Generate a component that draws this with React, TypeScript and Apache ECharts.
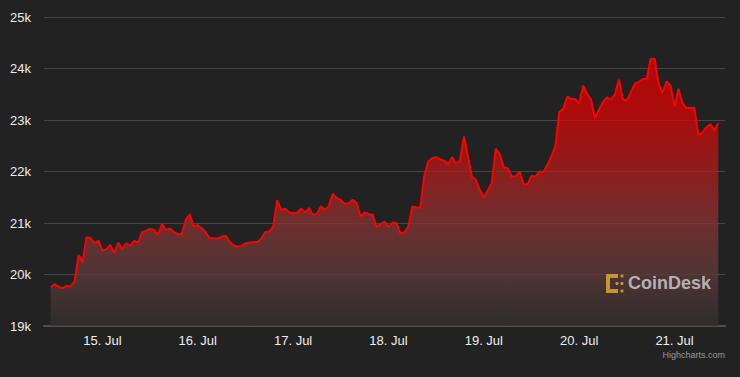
import React, { useEffect, useRef } from "react";
import * as echarts from "echarts";

// Hourly BTC price (USD), 14 Jul 2022 11:00 UTC -> 21 Jul 2022 11:00 UTC
const START = Date.UTC(2022, 6, 14, 11, 0);
const HOUR = 3600000;
const X_MIN = Date.UTC(2022, 6, 14, 9, 18);
const X_MAX = Date.UTC(2022, 6, 21, 12, 42);

const prices: number[] = [
  19752, 19810, 19764, 19733, 19777, 19768, 19861, 20380, 20238, 20724,
  20705, 20607, 20658, 20464, 20490, 20574, 20413, 20620, 20490, 20607,
  20555, 20652, 20620, 20821, 20852, 20885, 20866, 20769, 20982, 20866,
  20891, 20821, 20782, 20785, 21060, 21171, 20930, 20963, 20899, 20821,
  20705, 20705, 20698, 20737, 20750, 20639, 20569, 20542, 20555, 20607,
  20620, 20628, 20633, 20698, 20827, 20833, 20930, 21440, 21255, 21280,
  21206, 21193, 21193, 21284, 21206, 21291, 21157, 21177, 21323, 21255,
  21333, 21566, 21482, 21449, 21371, 21385, 21449, 21385, 21124, 21206,
  21177, 21157, 20930, 20976, 21027, 20930, 21008, 20995, 20802, 20814,
  20930, 21320, 21307, 21295, 21902, 22193, 22259, 22279, 22240, 22207,
  22143, 22279, 22149, 22214, 22680, 22292, 21902, 21838, 21643, 21501,
  21630, 21773, 22440, 22337, 22084, 22065, 21902, 21902, 21999, 21754,
  21754, 21915, 21902, 21999, 21990, 22129, 22292, 22486, 23154, 23218,
  23457, 23406, 23406, 23328, 23665, 23509, 23393, 23037, 23198, 23348,
  23438, 23393, 23503, 23781, 23406, 23373, 23540, 23700, 23740, 23795,
  23795, 24189, 24183, 23700, 23534, 23748, 23665, 23262, 23607, 23328,
  23231, 23240, 23231, 22712, 22757, 22855, 22920, 22796, 22939,
];

const yMin = 19000;
const yMax = 25000;
const yStep = 1000;
const yTickLabels = ["19k", "20k", "21k", "22k", "23k", "24k", "25k"];
const monthNames = ["Jan", "Feb", "Mar", "Apr", "May", "Jun", "Jul", "Aug", "Sep", "Oct", "Nov", "Dec"];

export default function App() {
  const ref = useRef<HTMLDivElement>(null);

  useEffect(() => {
    document.body.style.margin = "0";
    document.body.style.background = "#222222";
    const chart = echarts.init(ref.current!, null, { renderer: "svg" });
    const data = prices.map((p, i) => [START + i * HOUR, p]);
    const labelFont = "'Liberation Sans', Arial, Helvetica, sans-serif";
    const gold = "#c5952f";

    chart.setOption({
      animation: false,
      useUTC: true,
      backgroundColor: "#222222",
      grid: { left: 44, right: 15, top: 17, bottom: 51, containLabel: false },
      xAxis: {
        type: "time",
        min: X_MIN,
        max: X_MAX,
        minInterval: 86400000,
        maxInterval: 86400000,
        axisLine: { show: true, lineStyle: { color: "#505050", width: 2 } },
        axisTick: { show: false },
        splitLine: { show: false },
        axisLabel: {
          color: "#eeeeee",
          fontSize: 13,
          fontFamily: labelFont,
          margin: 8,
          showMinLabel: false,
          showMaxLabel: false,
          hideOverlap: false,
          formatter: (v: number) => {
            if (v % 86400000 !== 0) return "";
            const d = new Date(v);
            return d.getUTCDate() + ". " + monthNames[d.getUTCMonth()];
          },
        },
      },
      yAxis: {
        type: "value",
        min: yMin,
        max: yMax,
        interval: yStep,
        axisLine: { show: false },
        axisTick: { show: false },
        splitLine: { show: true, lineStyle: { color: "#464646", width: 1 } },
        axisLabel: {
          color: "#eeeeee",
          fontSize: 13,
          fontFamily: labelFont,
          margin: 13,
          formatter: (v: number) => yTickLabels[Math.round((v - yMin) / yStep)] ?? "",
        },
      },
      series: [
        {
          type: "line",
          data,
          showSymbol: false,
          symbol: "none",
          lineStyle: { color: "#ff0000", width: 2 },
          itemStyle: { color: "#ff0000" },
          areaStyle: {
            opacity: 1,
            color: new echarts.graphic.LinearGradient(0, 0, 0, 1, [
              { offset: 0, color: "rgba(218,0,0,0.78)" },
              { offset: 0.2, color: "rgba(209,5,5,0.78)" },
              { offset: 0.4, color: "rgba(175,26,26,0.78)" },
              { offset: 0.6, color: "rgba(135,49,49,0.78)" },
              { offset: 0.8, color: "rgba(93,58,58,0.78)" },
              { offset: 1, color: "rgba(50,47,47,0.78)" },
            ]),
          },
        },
      ],
      graphic: [
        {
          type: "group",
          left: 606,
          top: 274,
          z: 100,
          children: [
            { type: "rect", z: 100, shape: { x: 0, y: 0, width: 12, height: 4 }, style: { fill: gold } },
            { type: "rect", z: 100, shape: { x: 0, y: 0, width: 4, height: 19 }, style: { fill: gold } },
            { type: "rect", z: 100, shape: { x: 0, y: 15, width: 12, height: 4 }, style: { fill: gold } },
            { type: "circle", z: 100, shape: { cx: 16, cy: 2, r: 1.6 }, style: { fill: gold } },
            { type: "circle", z: 100, shape: { cx: 16, cy: 17, r: 1.6 }, style: { fill: gold } },
            { type: "circle", z: 100, shape: { cx: 11, cy: 9.5, r: 1.6 }, style: { fill: gold } },
            { type: "circle", z: 100, shape: { cx: 16, cy: 9.5, r: 1.6 }, style: { fill: gold } },
          ],
        },
        {
          type: "text",
          left: 628,
          top: 274,
          z: 100,
          style: {
            text: "CoinDesk",
            fill: "rgba(195,195,195,0.9)",
            font: "bold 18px 'Liberation Sans', Arial, sans-serif",
          },
        },
        {
          type: "text",
          right: 15,
          top: 350,
          z: 100,
          style: {
            text: "Highcharts.com",
            fill: "#999999",
            font: "9px 'Liberation Sans', Arial, sans-serif",
          },
        },
      ],
    });

    return () => chart.dispose();
  }, []);

  return (
    <div
      ref={ref}
      style={{ position: "fixed", left: 0, top: 0, width: 740, height: 377 }}
    />
  );
}
